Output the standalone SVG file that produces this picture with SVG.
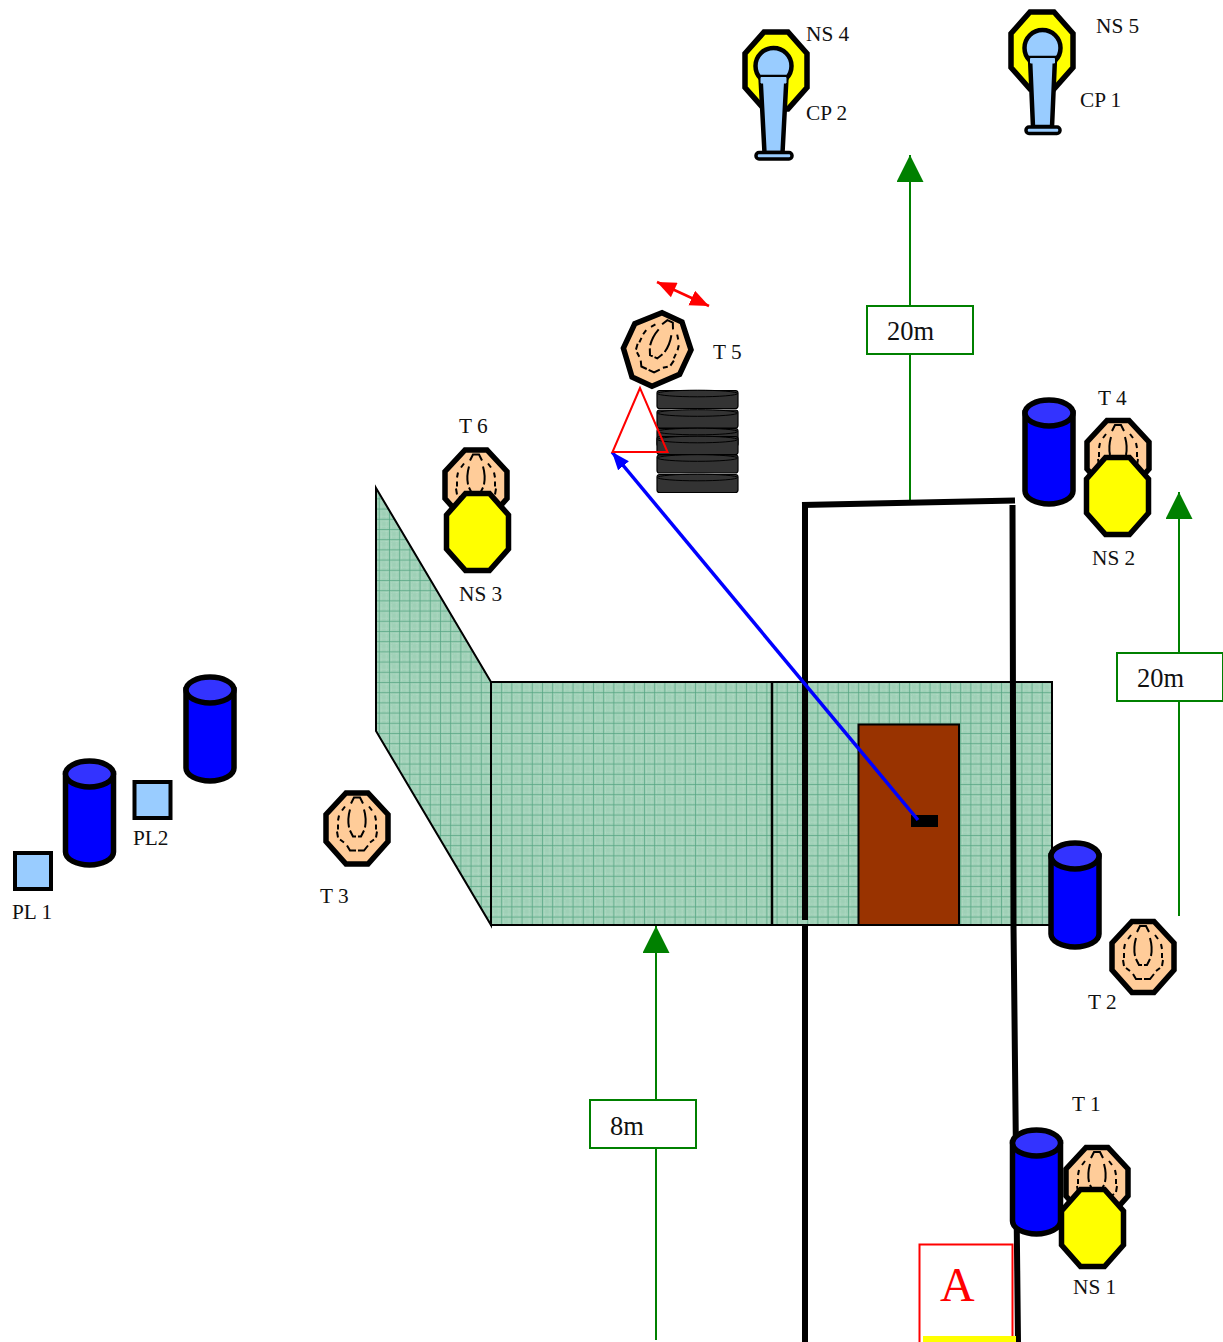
<svg xmlns="http://www.w3.org/2000/svg" width="1223" height="1342" viewBox="0 0 1223 1342">
<style>
text{font-family:"Liberation Serif","Times New Roman",serif;fill:#111}
.lb{font-size:21.300px}
.dist{font-size:26.500px}
.bk{fill:none;stroke:#000;stroke-width:6}
.gr{fill:none;stroke:#008000;stroke-width:2}
.box{fill:#fff;stroke:#008000;stroke-width:2}
.oct{stroke:#000;stroke-width:5.500;stroke-linejoin:miter}
.dash{fill:none;stroke:#000;stroke-width:2}
.mic{fill:#99ccff;stroke:#000;stroke-width:4.500}
.foot{fill:#99ccff;stroke:#000;stroke-width:3.500}
.wall{stroke:#000;stroke-width:2;fill:url(#mesh)}
.pl{fill:#99ccff;stroke:#000;stroke-width:4}
</style>
<defs>
<pattern id="mesh" patternUnits="userSpaceOnUse" width="10.2" height="10.2" x="491" y="682">
<rect width="10.2" height="10.2" fill="#9ed0b6"/>
<path d="M0 2.500H10.2M0 7.600H10.2M2.500 0V10.2M7.600 0V10.2" stroke="#b6dcc8" stroke-width="1" stroke-dasharray="1 1"/>
<path d="M0 0H10.2M0 0V10.2" stroke="#55a582" stroke-width="1.400"/>
</pattern>
<marker id="gh" markerUnits="userSpaceOnUse" markerWidth="28" markerHeight="28" refX="27" refY="13.500" orient="auto"><path d="M0 0L27 13.500L0 27Z" fill="#008000"/></marker>
<marker id="bh" markerUnits="userSpaceOnUse" markerWidth="20" markerHeight="16" refX="18" refY="7" orient="auto"><path d="M0 0L18 7L0 14Z" fill="#0000ff"/></marker>
<marker id="rh" markerUnits="userSpaceOnUse" markerWidth="20" markerHeight="18" refX="19" refY="8" orient="auto"><path d="M0 0L19 8L0 16Z" fill="#ff0000"/></marker>
<marker id="rt" markerUnits="userSpaceOnUse" markerWidth="20" markerHeight="18" refX="0" refY="8" orient="auto"><path d="M19 0L0 8L19 16Z" fill="#ff0000"/></marker>
<g id="target">
<path class="oct" fill="#ffcc99" d="M-11-35.500H11L31-14V13L11 35.500H-11L-31 13V-14Z"/>
<path class="dash" d="M-6-25L-3-31H3L6-25M-7-19C-9-12-9-6-8-1M-7 2L-4 8H-1M7-19C9-12 9-6 8-1M7 2L4 8H1M-12-22L-15-18M-18-13L-19-8M-19-4V1M-20 3L-19 9M-17 11L-13 14M12-22L15-18M18-13L19-8M19-4V1M20 3L19 9M17 11L13 14M-10 17L-7 22H-1M1 22H7L11 17"/>
</g>
<path id="ns" class="oct" fill="#ffff00" d="M-12-38.500H12L31-17V17L12 38.500H-12L-31 17V-17Z"/>
<g id="barrel">
<path d="M-24 0V78A24 13 0 0 0 24 78V0Z" fill="#0000ff" stroke="#000" stroke-width="5.500"/>
<ellipse cx="0" cy="0" rx="24" ry="13" fill="#3333ff" stroke="#000" stroke-width="5.500"/>
</g>
<g id="tire">
<rect x="-40.500" y="0.500" width="81" height="18" rx="2.500" fill="#333" stroke="#000" stroke-width="1.200"/>
<ellipse cx="0" cy="3.500" rx="40" ry="3.300" fill="#333" stroke="#000" stroke-width="1"/>
</g>
</defs>

<g id="wall">
<path class="wall" d="M376 488L491 682V925L376 731Z"/>
<rect class="wall" x="491" y="682" width="561" height="243"/>
<path d="M772 682V925" stroke="#000" stroke-width="2.500"/>
</g>
<g id="door">
<rect x="858.500" y="724.500" width="100.500" height="200.500" fill="#993300" stroke="#000" stroke-width="2"/>
<rect x="911" y="815" width="27" height="12" fill="#000"/>
</g>

<g id="connectors">
<path class="gr" marker-end="url(#gh)" d="M910 500V155"/>
<path class="gr" marker-end="url(#gh)" d="M1179 916V492"/>
<path class="gr" marker-end="url(#gh)" d="M656 1340V926"/>
<path class="bk" d="M805 502V920M805 926V1342"/>
<path class="bk" d="M802 505L1015 500.500"/>
<path class="bk" d="M1012.500 505L1013.500 925L1018 1342"/>
<path fill="none" stroke="#0000ff" stroke-width="3.500" marker-end="url(#bh)" d="M918 820L612 452"/>
<path fill="none" stroke="#ff0000" stroke-width="2.500" marker-start="url(#rt)" marker-end="url(#rh)" d="M657 282L709 306"/>
</g>

<g id="dist-1"><rect class="box" x="867" y="306" width="106" height="48"/><text class="dist" x="887" y="340">20m</text></g>
<g id="dist-2"><rect class="box" x="1117" y="653" width="106" height="48"/><text class="dist" x="1137" y="687">20m</text></g>
<g id="dist-3"><rect class="box" x="590" y="1100" width="106" height="48"/><text class="dist" x="610" y="1135">8m</text></g>

<g id="tires">
<use href="#tire" x="697.500" y="390"/>
<use href="#tire" x="697.500" y="409.500"/>
<use href="#tire" x="697.500" y="428"/>
<use href="#tire" x="697.500" y="436"/>
<use href="#tire" x="697.500" y="454.500"/>
<use href="#tire" x="697.500" y="474"/>
</g>
<path id="marker-triangle" d="M640 388L612.500 452H667.500Z" fill="none" stroke="#ff0000" stroke-width="2"/>

<g id="T5"><use href="#target" transform="translate(657 349.500) rotate(25)"/><text class="lb" x="713" y="359">T 5</text></g>
<g id="T6"><use href="#target" x="476" y="485.500"/><text class="lb" x="459" y="433">T 6</text></g>
<g id="NS3"><use href="#ns" x="477.500" y="532"/><text class="lb" x="459" y="601">NS 3</text></g>
<g id="T4"><use href="#target" x="1118" y="456"/><text class="lb" x="1098" y="405">T 4</text></g>
<g id="barrel-T4"><use href="#barrel" x="1049" y="413"/></g>
<g id="NS2"><use href="#ns" x="1117.500" y="496"/><text class="lb" x="1092" y="565">NS 2</text></g>
<g id="T2"><use href="#target" x="1143" y="957"/><text class="lb" x="1088" y="1009">T 2</text></g>
<g id="barrel-T2"><use href="#barrel" x="1075" y="856"/></g>
<g id="T1"><use href="#target" x="1097" y="1183"/><text class="lb" x="1072" y="1111">T 1</text></g>
<g id="barrel-T1"><use href="#barrel" x="1036.500" y="1143"/></g>
<g id="NS1"><use href="#ns" x="1092.500" y="1228"/><text class="lb" x="1073" y="1294">NS 1</text></g>
<g id="T3"><use href="#target" x="357" y="828.500"/><text class="lb" x="320" y="903">T 3</text></g>

<g id="barrel-PL1"><use href="#barrel" x="89.500" y="774"/></g>
<g id="barrel-PL2"><use href="#barrel" x="210" y="690"/></g>
<g id="PL1"><rect class="pl" x="15" y="853" width="36" height="36"/><text class="lb" x="12" y="919">PL 1</text></g>
<g id="PL2"><rect class="pl" x="134.500" y="782" width="36" height="36"/><text class="lb" x="133" y="845">PL2</text></g>

<g id="NS4"><use href="#ns" x="776" y="70.500"/><text class="lb" x="806" y="41">NS 4</text></g>
<g id="CP2">
<circle class="mic" cx="773.500" cy="66" r="18"/>
<path class="mic" d="M760.500 77H786.500L782.500 153H764.500Z"/>
<path d="M761 77.500H786V83H761Z" fill="#99ccff" stroke="#99ccff" stroke-width="1"/>
<rect class="foot" x="756" y="152.500" width="36" height="6.500" rx="3"/>
<text class="lb" x="806" y="120">CP 2</text>
</g>
<g id="NS5"><use href="#ns" x="1042" y="50.500"/><text class="lb" x="1096" y="33">NS 5</text></g>
<g id="CP1">
<circle class="mic" cx="1042.500" cy="48" r="18"/>
<path class="mic" d="M1030 58H1055L1052 127H1033Z"/>
<path d="M1030.500 58.500H1054.500V63H1030.500Z" fill="#99ccff" stroke="#99ccff" stroke-width="1"/>
<rect class="foot" x="1026" y="127" width="34" height="6.500" rx="3"/>
<text class="lb" x="1080" y="107">CP 1</text>
</g>

<g id="A">
<rect x="919.500" y="1244.500" width="93" height="100" fill="none" stroke="#ff0000" stroke-width="2"/>
<rect x="923" y="1336" width="93" height="6" fill="#ffff00"/>
<text x="940" y="1301" font-size="48" style="fill:#ff0000">A</text>
</g>
</svg>
